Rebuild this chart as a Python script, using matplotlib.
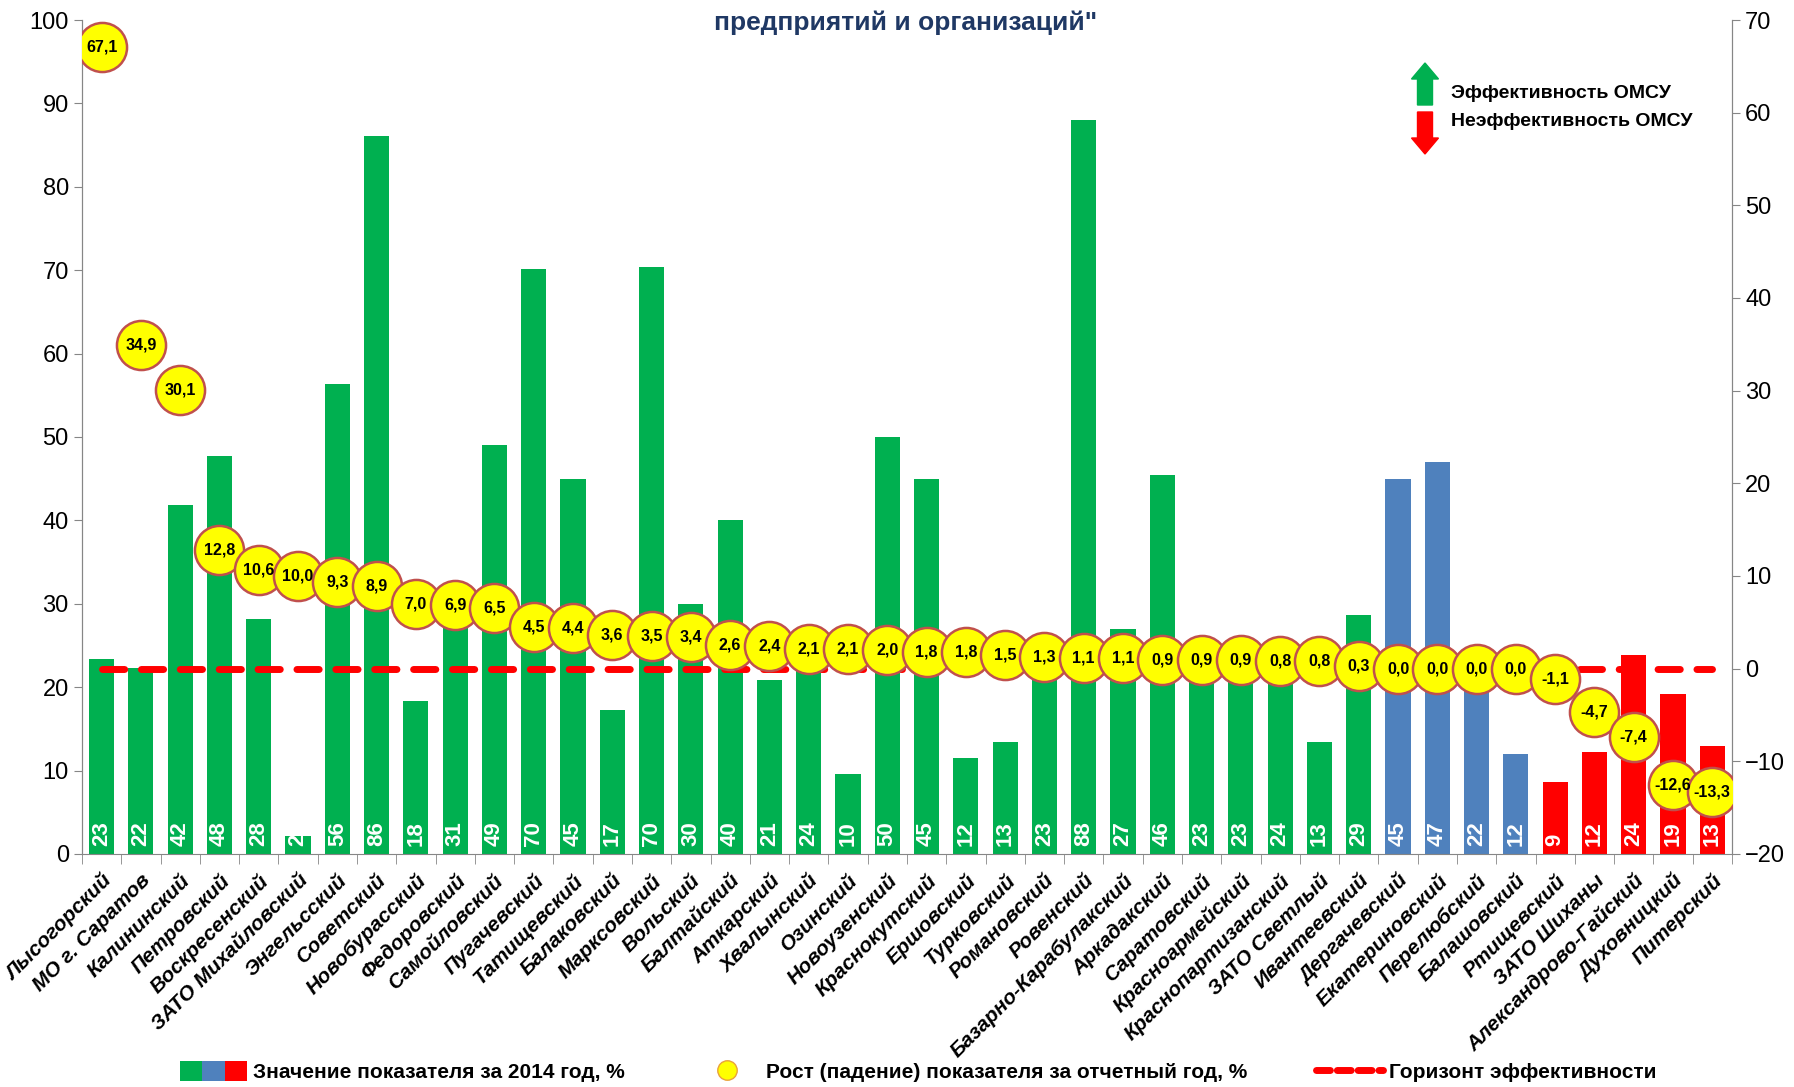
import numpy as np
import matplotlib
matplotlib.use("Agg")
import matplotlib.pyplot as plt
from matplotlib.patches import Patch, FancyArrow
from matplotlib.lines import Line2D
from matplotlib.legend_handler import HandlerTuple
from matplotlib.transforms import IdentityTransform

plt.rcParams["font.family"] = ["Liberation Sans", "DejaVu Sans"]

districts = [
    "Лысогорский", "МО г. Саратов", "Калининский", "Петровский", "Воскресенский",
    "ЗАТО Михайловский", "Энгельсский", "Советский", "Новобурасский", "Федоровский",
    "Самойловский", "Пугачевский", "Татищевский", "Балаковский", "Марксовский",
    "Вольский", "Балтайский", "Аткарский", "Хвалынский", "Озинский",
    "Новоузенский", "Краснокутский", "Ершовский", "Турковский", "Романовский",
    "Ровенский", "Базарно-Карабулакский", "Аркадакский", "Саратовский", "Красноармейский",
    "Краснопартизанский", "ЗАТО Светлый", "Ивантеевский", "Дергачевский", "Екатериновский",
    "Перелюбский", "Балашовский", "Ртищевский", "ЗАТО Шиханы", "Александрово-Гайский",
    "Духовницкий", "Питерский",
]
value_2014 = [
    23.4, 22.3, 41.9, 47.7, 28.2, 2.2, 56.3, 86.1, 18.3, 30.7,
    49.0, 70.1, 45.0, 17.3, 70.4, 30.0, 40.0, 20.9, 24.0, 9.6,
    50.0, 45.0, 11.5, 13.4, 23.0, 88.0, 27.0, 45.5, 23.0, 23.0,
    24.0, 13.4, 28.7, 45.0, 47.0, 22.0, 12.0, 8.6, 12.2, 23.8,
    19.2, 13.0,
]
growth = [
    67.1, 34.9, 30.1, 12.8, 10.6, 10.0, 9.3, 8.9, 7.0, 6.9,
    6.5, 4.5, 4.4, 3.6, 3.5, 3.4, 2.6, 2.4, 2.1, 2.1,
    2.0, 1.8, 1.8, 1.5, 1.3, 1.1, 1.1, 0.9, 0.9, 0.9,
    0.8, 0.8, 0.3, 0.0, 0.0, 0.0, 0.0, -1.1, -4.7, -7.4,
    -12.6, -13.3,
]
# group: 0 - рост, 1 - без изменений, 2 - падение
group = [0] * 33 + [1] * 4 + [2] * 5
horizon = 0

GREEN = "#00B050"
BLUE = "#4F81BD"
RED = "#FF0000"
group_colors = [GREEN, BLUE, RED]
DASHES = (3.2, 2.4)

x = np.arange(len(districts))
colors = [group_colors[g] for g in group]

fig = plt.figure(figsize=(17.94, 10.87), dpi=100)
ax = fig.add_axes([0.0457, 0.2144, 0.9197, 0.7672])
ax2 = ax.twinx()

ax.bar(x, value_2014, width=0.64, color=colors, zorder=2)
for xi, v in zip(x, value_2014):
    ax.text(xi, 1.0, f"{round(v):d}", rotation=90, ha="center", va="bottom",
            color="white", fontsize=16, fontweight="bold", zorder=3)

ax.set_xlim(-0.5, len(districts) - 0.5)
ax.set_ylim(0, 100)
ax.set_yticks(np.arange(0, 101, 10))
ax2.set_ylim(-20, 70)
ax2.set_yticks(np.arange(-20, 71, 10))

ax2.plot([x[0], x[-1]], [horizon, horizon], color=RED, lw=5,
         dashes=DASHES, dash_capstyle="round", zorder=3)
ax2.scatter(x, growth, s=1250, facecolor="#FFFF00", edgecolor="#C0504D",
            linewidth=1.8, zorder=4)
for xi, g in zip(x, growth):
    ax2.text(xi, g, f"{g:.1f}".replace(".", ","), ha="center", va="center",
             fontsize=11.5, fontweight="bold", zorder=5)

ax.set_xticks(x)
ax.set_xticklabels(districts, rotation=45, ha="right", rotation_mode="anchor",
                   fontsize=15, fontweight="bold", style="italic")
ax.tick_params(axis="x", length=0, pad=12)
ax.set_xticks(np.arange(-0.5, len(districts), 1), minor=True)
ax.tick_params(axis="x", which="minor", length=7, color="#868686")
for a in (ax, ax2):
    a.tick_params(axis="y", labelsize=17, color="#868686", length=6)
    a.spines["top"].set_visible(False)
    for s in ("left", "right", "bottom"):
        a.spines[s].set_color("#868686")
ax2.spines["bottom"].set_visible(False)

fig.text(0.505, 0.979, "предприятий и организаций\"", ha="center", va="center",
         fontsize=19, fontweight="bold", color="#1F3864")

# стрелки эффективности (в пикселях рисунка)
fig.patches.append(FancyArrow(1425, 982, 0, 42, width=15, head_width=27,
                              head_length=16, length_includes_head=True,
                              color=GREEN, transform=IdentityTransform(),
                              figure=fig))
fig.patches.append(FancyArrow(1425, 975, 0, -42, width=15, head_width=27,
                              head_length=16, length_includes_head=True,
                              color=RED, transform=IdentityTransform(),
                              figure=fig))
fig.text(1451 / 1794, 993 / 1087, "Эффективность ОМСУ", fontsize=14,
         fontweight="bold", va="center")
fig.text(1451 / 1794, 966 / 1087, "Неэффективность ОМСУ", fontsize=14,
         fontweight="bold", va="center")

handles = [
    tuple(Patch(facecolor=c) for c in group_colors),
    Line2D([], [], marker="o", ls="none", markersize=14, markerfacecolor="#FFFF00",
           markeredgecolor="#E9A23B"),
    Line2D([], [], color=RED, lw=5, dashes=(2, 1), dash_capstyle="round"),
]
labels = [
    "Значение показателя за 2014 год, %",
    "Рост (падение) показателя за отчетный год, %",
    "Горизонт эффективности",
]
fig.legend(handles, labels, loc="center", bbox_to_anchor=(0.512, 0.014), ncol=3,
           frameon=False, columnspacing=3.3, handlelength=3.2, handleheight=1.1,
           handletextpad=0.3,
           handler_map={tuple: HandlerTuple(ndivide=None, pad=0)},
           prop={"size": 15, "weight": "bold"})

fig.savefig("out.png", dpi=100)
